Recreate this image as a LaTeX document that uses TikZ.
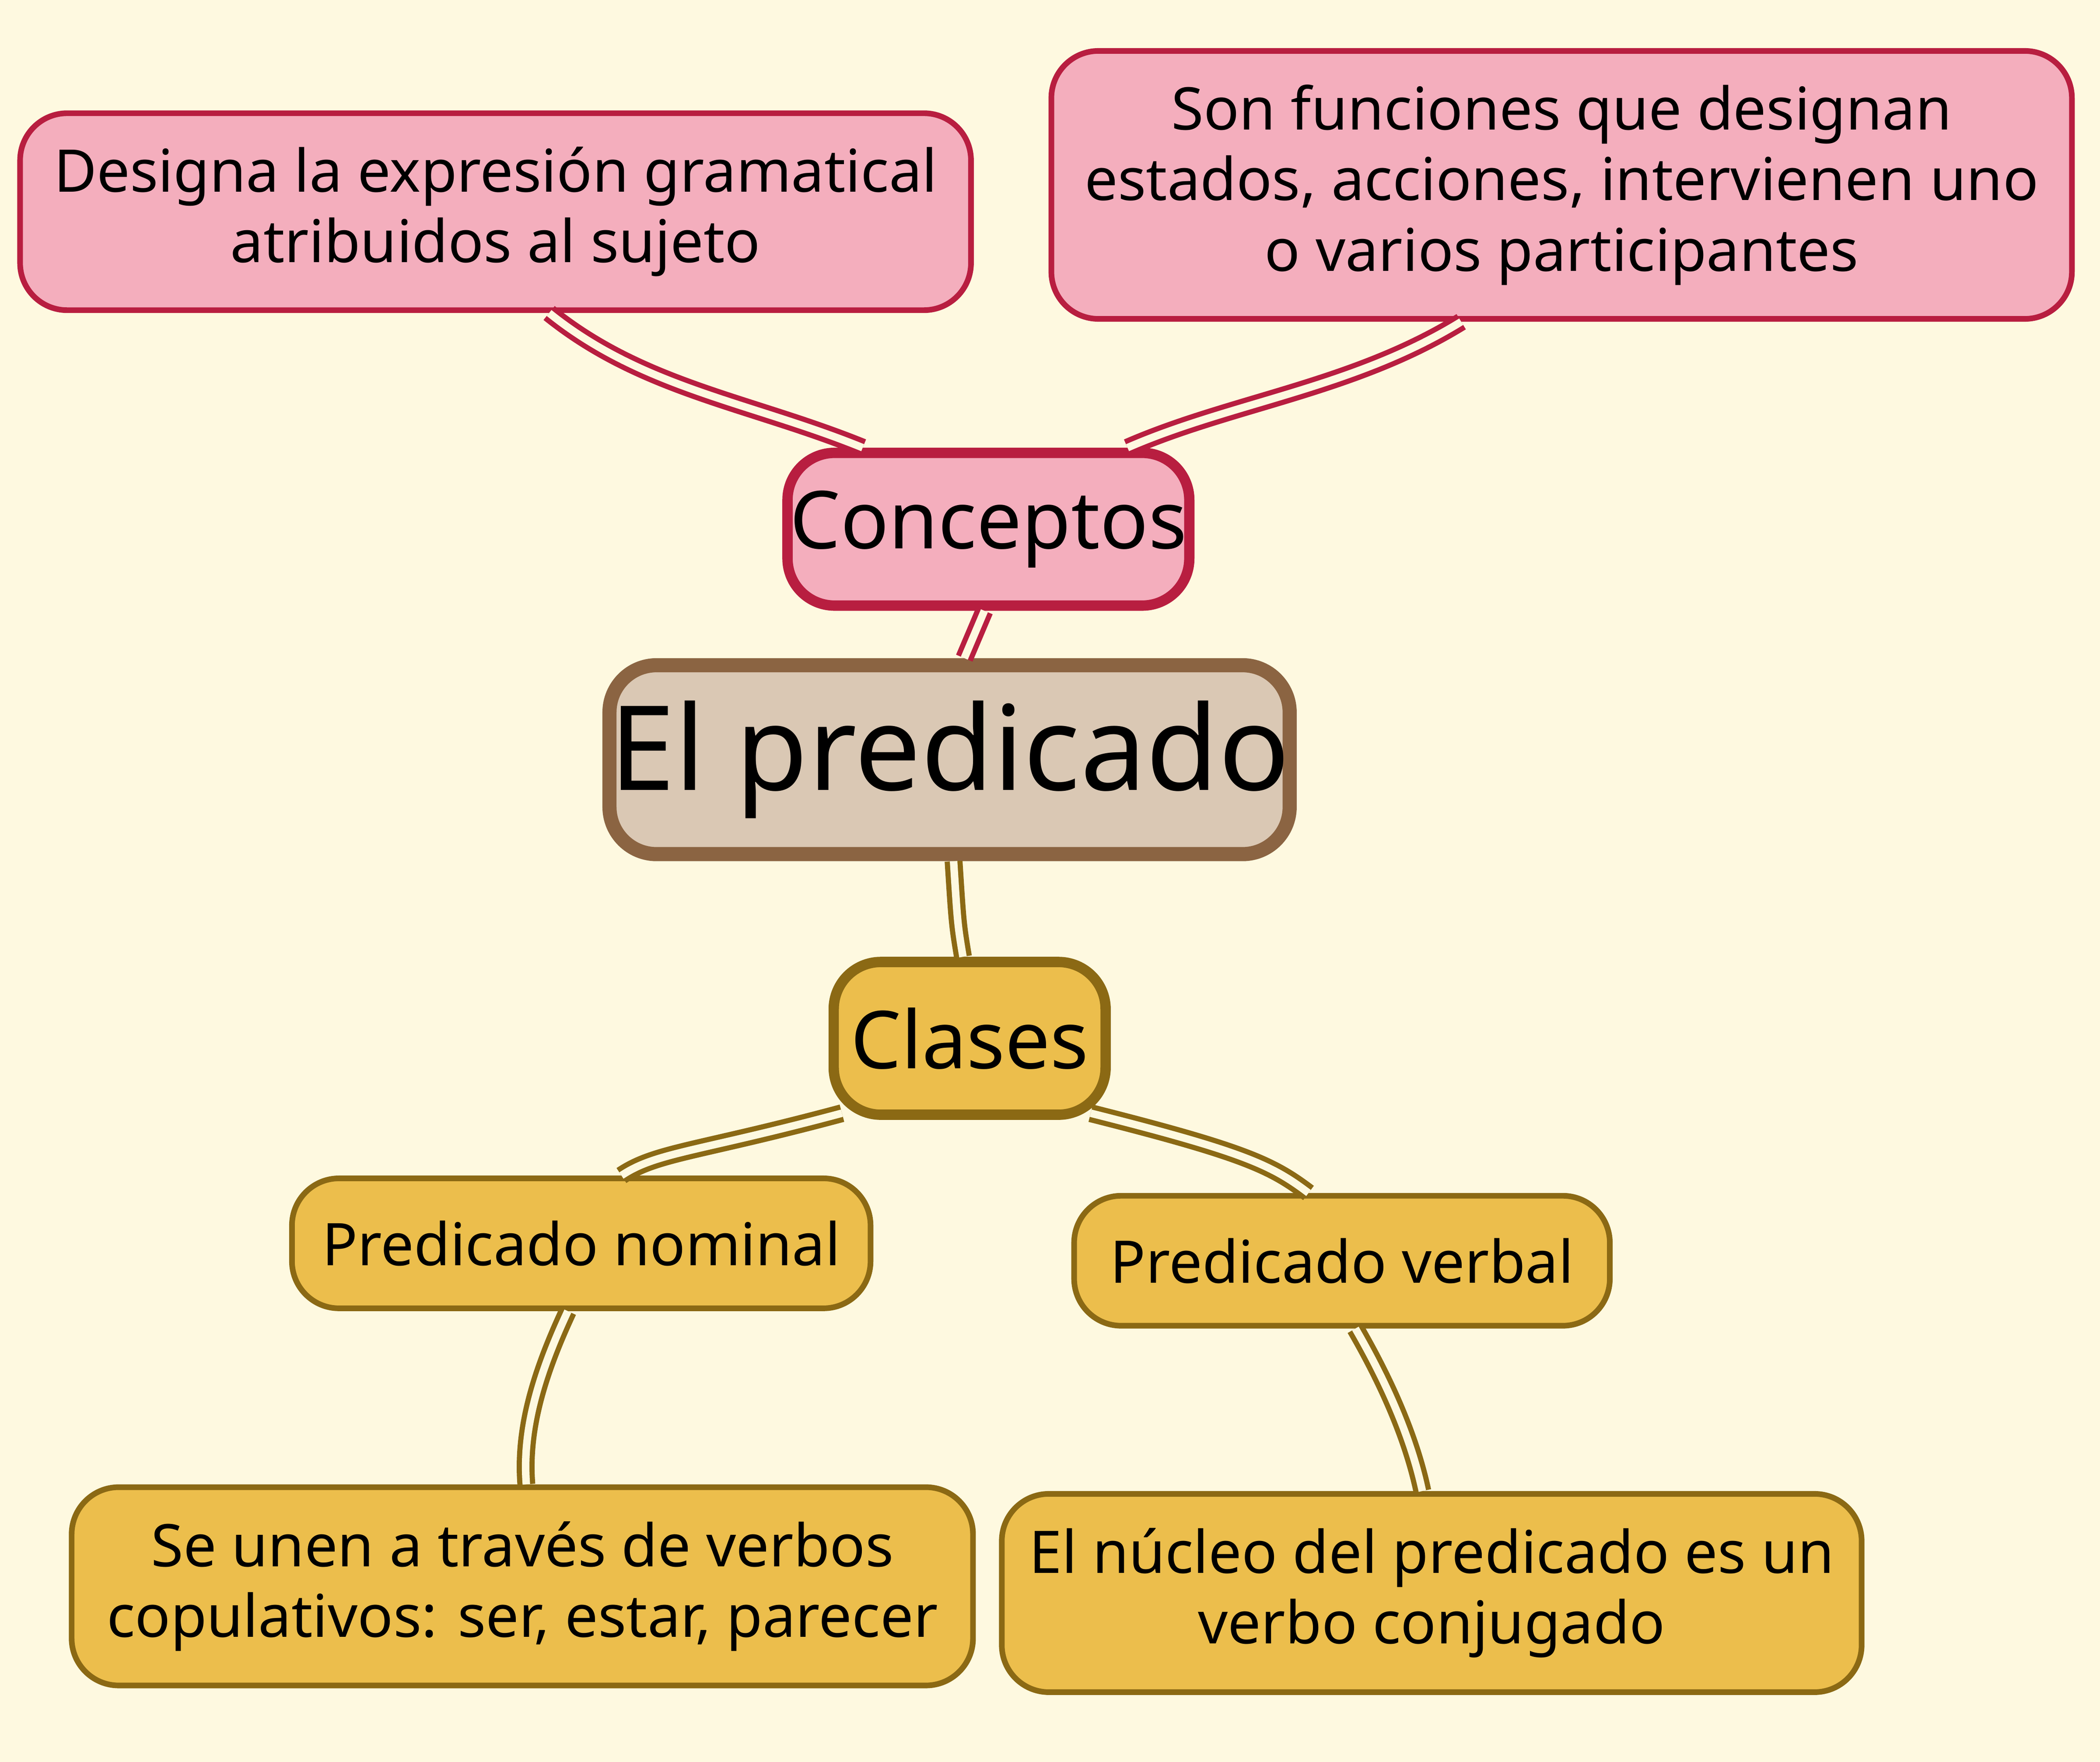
\documentclass[tikz,border=0pt]{standalone}
\usepackage{fontspec}
\setmainfont{Noto Sans}
\usetikzlibrary{calc}
\definecolor{bg}{RGB}{254,249,224}
\definecolor{pinkfill}{RGB}{244,174,189}
\definecolor{pinkline}{RGB}{184,30,64}
\definecolor{brownfill}{RGB}{218,200,180}
\definecolor{brownline}{RGB}{139,100,66}
\definecolor{goldfill}{RGB}{236,190,76}
\definecolor{goldline}{RGB}{139,105,20}

\begin{document}
\begin{tikzpicture}[%
  box/.style={draw,rounded corners=10pt,align=center,inner sep=0pt},%
  pinkbox/.style={box,fill=pinkfill,draw=pinkline,line width=1.2pt},%
  goldbox/.style={box,fill=goldfill,draw=goldline,line width=1.2pt},%
  txt/.style={font=\fontsize{12.5}{15}\selectfont},%
  link/.style={double=bg,double distance=1.6pt,line width=1.1pt}%
  ]
  \fill[bg] (0,0) rectangle (15.68,-13.15);
  \useasboundingbox (0,0) rectangle (15.68,-13.15);
%
  \node (desig) [pinkbox,txt,minimum width=7.1cm,minimum height=1.47cm] at (3.70,-1.58)
    {Designa la expresión gramatical\\atribuidos al sujeto};
  \node (func) [pinkbox,txt,minimum width=7.62cm,minimum height=2.0cm] at (11.66,-1.38)
    {Son funciones que designan\\estados, acciones, intervienen uno\\o varios participantes};
  \node (conc) [pinkbox,line width=2.2pt,font=\bfseries\fontsize{17}{20}\selectfont,minimum width=3.0cm,minimum height=1.14cm] at (7.38,-3.95) {Conceptos};
  \node (pred) [box,fill=brownfill,draw=brownline,line width=3pt,font=\bfseries\fontsize{25}{30}\selectfont,minimum width=4.18cm,minimum height=1.41cm] at (7.09,-5.67) {El predicado};
  \node (clas) [goldbox,line width=2.2pt,font=\bfseries\fontsize{17}{20}\selectfont,minimum width=2.03cm,minimum height=1.14cm] at (7.24,-7.75) {Clases};
%
  \node (nomi) [goldbox,txt,minimum width=4.32cm,minimum height=0.97cm] at (4.34,-9.28) {Predicado nominal};
  \node (verb) [goldbox,txt,minimum width=4.0cm,minimum height=0.97cm] at (10.02,-9.41) {Predicado verbal};
  \node (unen) [goldbox,txt,minimum width=6.73cm,minimum height=1.48cm] at (3.90,-11.84)
    {Se unen a través de verbos\\copulativos: ser, estar, parecer};
  \node (nucl) [goldbox,txt,minimum width=6.42cm,minimum height=1.48cm] at (10.69,-11.89)
    {El núcleo del predicado es un\\verbo conjugado};
%
  \draw[link,pinkline] ($(desig.south)+(0.4,0)$) .. controls (4.8,-2.9) and (5.6,-3.0) .. ($(conc.north west)+(0.6,0)$);
  \draw[link,pinkline] ($(func.south)+(-0.75,0)$) .. controls (10.1,-2.9) and (9.2,-3.0) .. ($(conc.north east)+(-0.5,0)$);
  \draw[link,pinkline] ($(conc.south)+(-0.03,0)$) -- ($(pred.north)+(0.11,0)$);
  \draw[link,goldline] ($(pred.south)+(0.03,0)$) .. controls (7.15,-6.9) .. ($(clas.north)+(-0.05,0)$);
  \draw[link,goldline] ($(clas.south west)+(0.1,0.05)$) .. controls (5.2,-8.6) and (4.9,-8.6) .. ($(nomi.north)+(0.3,0)$);
  \draw[link,goldline] ($(clas.south east)+(-0.15,0.05)$) .. controls (9.3,-8.6) and (9.5,-8.7) .. ($(verb.north)+(-0.25,0)$);
  \draw[link,goldline] ($(nomi.south)+(-0.1,0)$) .. controls (4.0,-10.3) and (3.9,-10.7) .. ($(unen.north)+(0.03,0)$);
  \draw[link,goldline] ($(verb.south)+(0.1,0)$) .. controls (10.4,-10.4) and (10.55,-10.8) .. ($(nucl.north)+(-0.07,0)$);
%
\end{tikzpicture}
\end{document}
